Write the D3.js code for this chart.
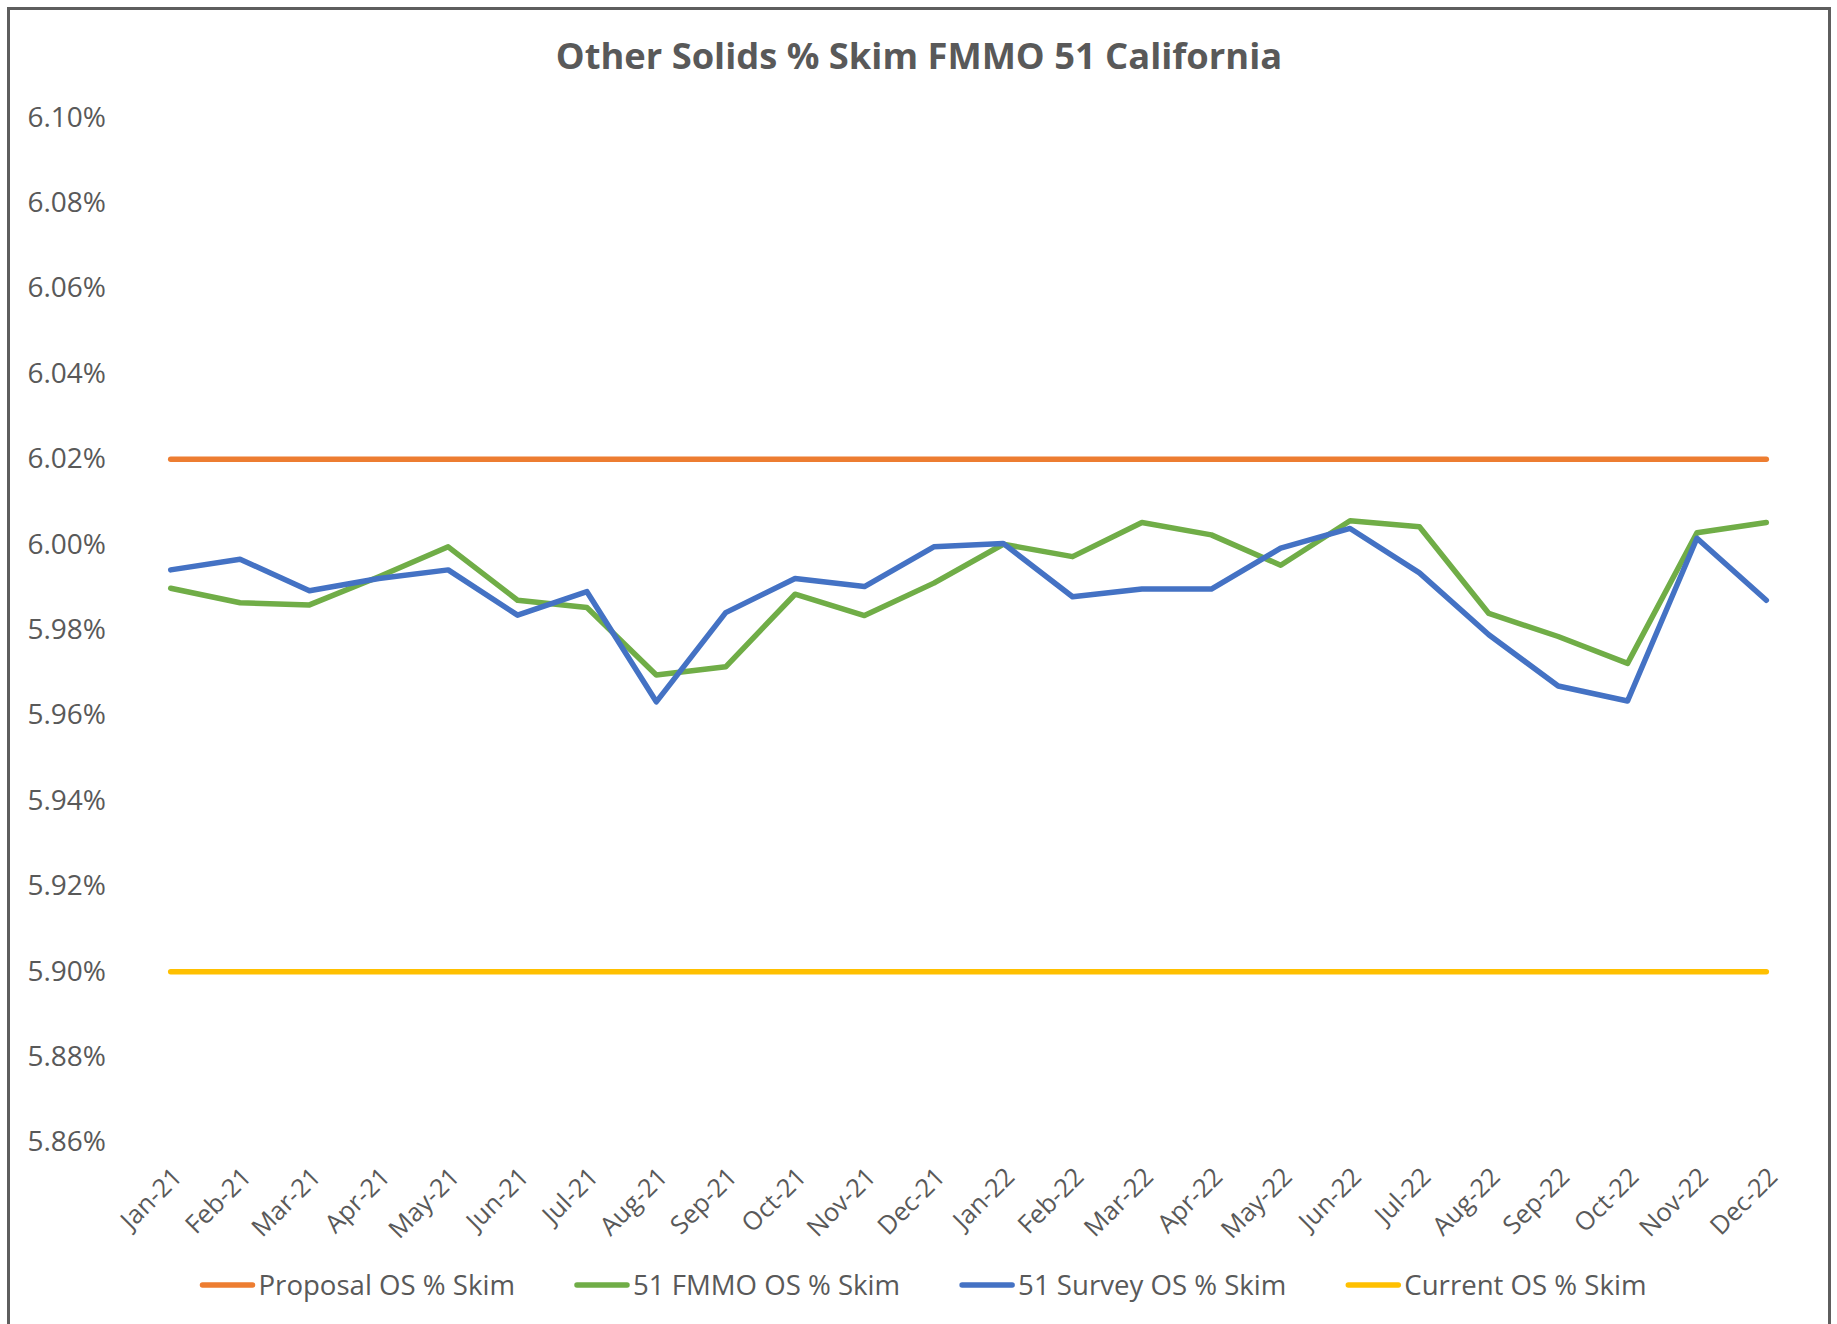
<!DOCTYPE html>
<html>
<head>
<meta charset="utf-8">
<script src="https://cdn.jsdelivr.net/npm/d3@7"></script>
<style>
  body { margin: 0; background: #fff; }
  text { font-family: "Open Sans", sans-serif; fill: #595959; }
</style>
</head>
<body>
<div id="chart"></div>
<script>
// months on the category axis
var months = ["Jan-21", "Feb-21", "Mar-21", "Apr-21", "May-21", "Jun-21",
    "Jul-21", "Aug-21", "Sep-21", "Oct-21", "Nov-21", "Dec-21",
    "Jan-22", "Feb-22", "Mar-22", "Apr-22", "May-22", "Jun-22",
    "Jul-22", "Aug-22", "Sep-22", "Oct-22", "Nov-22", "Dec-22"];

// values in percent
var proposal = [6.02, 6.02, 6.02, 6.02, 6.02, 6.02, 6.02, 6.02, 6.02, 6.02, 6.02, 6.02,
    6.02, 6.02, 6.02, 6.02, 6.02, 6.02, 6.02, 6.02, 6.02, 6.02, 6.02, 6.02];
var fmmo = [5.9898, 5.9864, 5.9859, 5.9925, 5.9995, 5.9870, 5.9853, 5.9695, 5.9714, 5.9884, 5.9834, 5.9910,
    6.0001, 5.9972, 6.0052, 6.0023, 5.9952, 6.0056, 6.0042, 5.9839, 5.9785, 5.9722, 6.0028, 6.0052];
var survey = [5.9941, 5.9966, 5.9892, 5.9921, 5.9941, 5.9835, 5.9890, 5.9632, 5.9841, 5.9921, 5.9902, 5.9995,
    6.0003, 5.9878, 5.9896, 5.9896, 5.9992, 6.0038, 5.9934, 5.9789, 5.9669, 5.9634, 6.0015, 5.9870];
var current = [5.90, 5.90, 5.90, 5.90, 5.90, 5.90, 5.90, 5.90, 5.90, 5.90, 5.90, 5.90,
    5.90, 5.90, 5.90, 5.90, 5.90, 5.90, 5.90, 5.90, 5.90, 5.90, 5.90, 5.90];

var yTicks = [5.86, 5.88, 5.90, 5.92, 5.94, 5.96, 5.98, 6.00, 6.02, 6.04, 6.06, 6.08, 6.10];

var seriesNames = ["Proposal OS % Skim", "51 FMMO OS % Skim", "51 Survey OS % Skim", "Current OS % Skim"];
var seriesColors = ["#ED7D31", "#70AD47", "#4472C4", "#FFC000"];
var seriesValues = [proposal, fmmo, survey, current];

var width = 1837, height = 1324;

var svg = d3.select("#chart").append("svg")
    .attr("width", width)
    .attr("height", height);

// chart frame (bottom edge runs off the page like in the source)
svg.append("rect")
    .attr("x", 8.5)
    .attr("y", 8.5)
    .attr("width", 1821)
    .attr("height", 1400)
    .attr("fill", "#fff")
    .attr("stroke", "#5e5e5e")
    .attr("stroke-width", 3);

// title
svg.append("text")
    .attr("x", 919)
    .attr("y", 69)
    .attr("text-anchor", "middle")
    .style("font-weight", "bold")
    .style("font-size", "36.3px")
    .text("Other Solids % Skim FMMO 51 California");

var x = d3.scalePoint()
    .domain(months)
    .range([136, 1801])
    .padding(0.5);

var y = d3.scaleLinear()
    .domain([5.86, 6.10])
    .range([1142.5, 117.7]);

// y axis labels only, no line
var yAxis = d3.axisLeft(y)
    .tickValues(yTicks)
    .tickSize(0)
    .tickPadding(0)
    .tickFormat(function(d) { return d3.format(".2f")(d) + "%"; });
svg.append("g")
    .attr("transform", "translate(106,0)")
    .call(yAxis)
    .call(function(g) { g.select(".domain").remove(); })
    .selectAll("text")
    .attr("font-family", null)
    .attr("dy", "0.3em")
    .style("font-size", "28px");

// x axis labels rotated
var xAxis = d3.axisBottom(x).tickSize(0).tickPadding(0);
svg.append("g")
    .attr("transform", "translate(0,1172)")
    .call(xAxis)
    .call(function(g) { g.select(".domain").remove(); })
    .selectAll("text")
    .attr("font-family", null)
    .style("font-size", "25.5px")
    .style("text-anchor", "end")
    .attr("dy", "0.35em")
    .attr("y", 0)
    .attr("transform", "translate(6,0) rotate(-45)");

var line = d3.line()
    .x(function(d, i) { return x(months[i]); })
    .y(function(d) { return y(d); });

svg.selectAll(".series")
    .data(seriesValues)
    .enter()
    .append("path")
    .attr("class", "series")
    .attr("d", line)
    .attr("fill", "none")
    .attr("stroke", function(d, i) { return seriesColors[i]; })
    .attr("stroke-width", 5.5)
    .attr("stroke-linecap", "round")
    .attr("stroke-linejoin", "round");

// legend, laid out left to right then centred
var legend = svg.append("g");
var cursor = 0;
seriesNames.forEach(function(name, i) {
    var item = legend.append("g").attr("transform", "translate(" + cursor + ",0)");
    item.append("line")
        .attr("x1", 3).attr("x2", 53)
        .attr("y1", 0).attr("y2", 0)
        .attr("stroke", seriesColors[i])
        .attr("stroke-width", 5.5)
        .attr("stroke-linecap", "round");
    var t = item.append("text")
        .attr("x", 59)
        .attr("dy", "0.35em")
        .style("font-size", "27.6px")
        .text(name);
    cursor += 59 + t.node().getComputedTextLength() + 59;
});
cursor -= 59;
legend.attr("transform", "translate(" + (923 - cursor / 2) + ",1285)");
</script>
</body>
</html>
